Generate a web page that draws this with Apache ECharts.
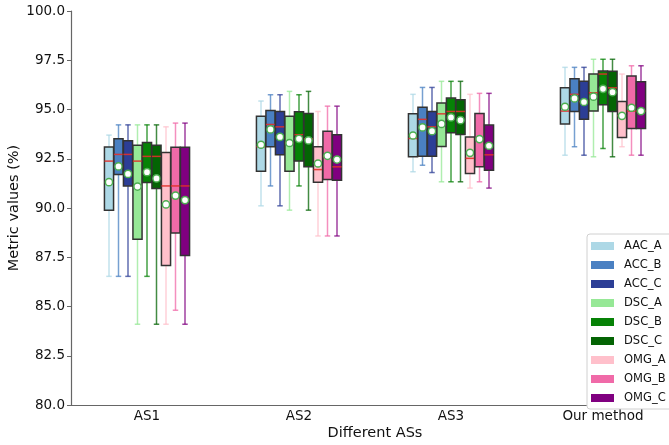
<!DOCTYPE html>
<html>
<head>
<meta charset="utf-8">
<script src="https://cdn.jsdelivr.net/npm/echarts@6/dist/echarts.min.js"></script>
<style>
  html, body { margin: 0; padding: 0; background: #fff; }
  #chart { width: 669px; height: 445px; }
</style>
</head>
<body>
<div id="chart"></div>
<script>
// Groups on the x axis
const categories = ['AS1', 'AS2', 'AS3', 'Our method'];
const seriesNames = ['AAC_A', 'ACC_B', 'ACC_C', 'DSC_A', 'DSC_B', 'DSC_C', 'OMG_A', 'OMG_B', 'OMG_C'];
const yTicks = [80, 82.5, 85, 87.5, 90, 92.5, 95, 97.5, 100];

// Per-series box statistics, one row per group: [low, q1, median, q3, high, mean]
const AAC_A = [
  [86.53, 89.89, 92.38, 93.10, 93.70, 91.31],
  [90.11, 91.87, 93.11, 94.66, 95.43, 93.21],
  [91.84, 92.60, 93.53, 94.78, 95.77, 93.68],
  [92.68, 94.26, 94.92, 96.10, 97.14, 95.14]
];
const ACC_B = [
  [86.53, 91.70, 92.72, 93.51, 94.22, 92.11],
  [91.12, 93.11, 94.24, 94.95, 95.75, 93.99],
  [92.17, 92.63, 94.50, 95.12, 96.12, 94.09],
  [93.11, 94.90, 95.77, 96.56, 97.14, 95.56]
];
const ACC_C = [
  [86.53, 91.12, 92.72, 93.41, 94.22, 91.73],
  [90.11, 92.70, 94.12, 94.90, 95.75, 93.61],
  [91.80, 92.63, 94.12, 94.90, 96.12, 93.90],
  [92.68, 94.50, 95.41, 96.43, 97.14, 95.38]
];
const DSC_A = [
  [84.10, 88.41, 92.38, 93.19, 94.22, 91.09],
  [89.89, 91.87, 93.31, 94.66, 95.92, 93.30],
  [91.33, 93.12, 94.78, 95.33, 96.43, 94.27],
  [92.60, 94.92, 95.85, 96.80, 97.55, 95.65]
];
const DSC_B = [
  [86.53, 91.30, 92.62, 93.33, 94.22, 91.82],
  [91.12, 92.38, 93.72, 94.88, 95.75, 93.51],
  [91.33, 93.82, 94.90, 95.58, 96.43, 94.60],
  [93.02, 95.24, 96.80, 96.95, 97.55, 96.05]
];
const DSC_C = [
  [84.10, 90.99, 92.62, 93.19, 94.22, 91.50],
  [89.89, 92.09, 93.51, 94.80, 95.92, 93.43],
  [91.33, 93.73, 94.90, 95.49, 96.43, 94.46],
  [92.60, 94.90, 96.10, 96.94, 97.55, 95.88]
];
const OMG_A = [
  [84.10, 87.08, 91.12, 92.82, 94.12, 90.18],
  [88.58, 91.31, 91.95, 93.11, 94.90, 92.26],
  [91.01, 91.75, 92.52, 93.61, 95.77, 92.80],
  [93.11, 93.58, 94.68, 95.41, 96.80, 94.68]
];
const OMG_B = [
  [84.81, 88.73, 91.12, 93.09, 94.31, 90.63],
  [88.58, 91.45, 92.62, 93.89, 95.17, 92.65],
  [91.33, 92.09, 93.50, 94.80, 95.82, 93.50],
  [92.68, 94.04, 94.92, 96.70, 97.22, 95.09]
];
const OMG_C = [
  [84.10, 87.59, 91.12, 93.09, 94.31, 90.40],
  [88.58, 91.41, 92.09, 93.72, 95.17, 92.46],
  [91.01, 91.92, 92.70, 94.21, 95.82, 93.16],
  [92.68, 94.04, 94.92, 96.41, 97.22, 94.92]
];

const seriesStats = [AAC_A, ACC_B, ACC_C, DSC_A, DSC_B, DSC_C, OMG_A, OMG_B, OMG_C];
const colors = ['#add8e6', '#4a80c2', '#2c3e96', '#96e896', '#068206', '#046404', '#ffc0cb', '#f06aa8', '#800080'];

const FONT = 'DejaVu Sans';
const nSeries = seriesNames.length;

// One custom series per method: whiskers, caps, box, median and mean marker
function makeRenderer(k, color) {
  return function (params, api) {
    const cat = api.value(0);
    const band = api.size([1, 0])[0];
    const step = band * 0.0625;
    const w = band * 0.06;
    const cx = api.coord([cat, 0])[0] + (k - (nSeries - 1) / 2) * step;
    const yLow = api.coord([cat, api.value(1)])[1];
    const yQ1 = api.coord([cat, api.value(2)])[1];
    const yMed = api.coord([cat, api.value(3)])[1];
    const yQ3 = api.coord([cat, api.value(4)])[1];
    const yHigh = api.coord([cat, api.value(5)])[1];
    const yMean = api.coord([cat, api.value(6)])[1];
    const capHalf = w * 0.3;
    const whisk = { stroke: color, lineWidth: 1.5, opacity: 0.75 };
    return {
      type: 'group',
      children: [
        { type: 'line', shape: { x1: cx, y1: yLow, x2: cx, y2: yQ1 }, style: whisk },
        { type: 'line', shape: { x1: cx, y1: yQ3, x2: cx, y2: yHigh }, style: whisk },
        { type: 'line', shape: { x1: cx - capHalf, y1: yLow, x2: cx + capHalf, y2: yLow }, style: whisk },
        { type: 'line', shape: { x1: cx - capHalf, y1: yHigh, x2: cx + capHalf, y2: yHigh }, style: whisk },
        { type: 'rect', shape: { x: cx - w / 2, y: yQ3, width: w, height: yQ1 - yQ3 },
          style: { fill: color, stroke: '#333333', lineWidth: 1.5 } },
        { type: 'line', shape: { x1: cx - w / 2, y1: yMed, x2: cx + w / 2, y2: yMed },
          style: { stroke: '#e0302a', lineWidth: 1.5, opacity: 0.9 } },
        { type: 'circle', shape: { cx: cx, cy: yMean, r: 3.6 },
          style: { fill: '#ffffff', stroke: '#4caf50', lineWidth: 1.5 } }
      ]
    };
  };
}

const series = seriesNames.map(function (name, k) {
  return {
    name: name,
    type: 'custom',
    renderItem: makeRenderer(k, colors[k]),
    itemStyle: { color: colors[k] },
    encode: { x: 0, y: [1, 2, 3, 4, 5, 6] },
    data: seriesStats[k].map(function (row, i) { return [i].concat(row); }),
    z: 2
  };
});

const chart = echarts.init(document.getElementById('chart'), null, { renderer: 'canvas' });
chart.setOption({
  animation: false,
  backgroundColor: '#ffffff',
  textStyle: { fontFamily: FONT },
  grid: { left: 71, top: 11, right: -10, bottom: 40, containLabel: false, outerBoundsMode: 'none' },
  legend: {
    orient: 'vertical',
    left: 587,
    top: 234,
    data: seriesNames.map(function (n) { return { name: n, icon: 'rect' }; }),
    itemWidth: 23,
    itemHeight: 8,
    itemGap: 7,
    padding: [6, 10, 5, 4],
    backgroundColor: '#ffffff',
    borderColor: '#d0d0d0',
    borderWidth: 1,
    borderRadius: 3,
    textStyle: { fontFamily: FONT, fontSize: 11.5, color: '#111', padding: [0, 0, 0, 5] }
  },
  xAxis: {
    type: 'category',
    data: categories,
    boundaryGap: true,
    name: 'Different ASs',
    nameLocation: 'middle',
    nameGap: 21,
    nameMoveOverlap: false,
    nameTextStyle: { fontFamily: FONT, fontSize: 14.5, color: '#111' },
    axisLine: { lineStyle: { color: '#666', width: 1.2 } },
    axisTick: { alignWithLabel: true, length: 4, lineStyle: { color: '#666' } },
    axisLabel: { fontFamily: FONT, fontSize: 13.5, color: '#111', margin: 4 },
    splitLine: { show: false }
  },
  yAxis: {
    type: 'value',
    min: yTicks[0],
    max: yTicks[yTicks.length - 1],
    interval: 2.5,
    name: 'Metric values (%)',
    nameLocation: 'middle',
    nameRotate: 90,
    nameGap: 49,
    nameMoveOverlap: false,
    nameTextStyle: { fontFamily: FONT, fontSize: 14.5, color: '#111' },
    axisLine: { show: true, lineStyle: { color: '#666', width: 1.2 } },
    axisTick: { show: true, length: 4, lineStyle: { color: '#666' } },
    axisLabel: { fontFamily: FONT, fontSize: 13.5, color: '#111', margin: 6,
      formatter: function (v) { return v.toFixed(1); } },
    splitLine: { show: false }
  },
  series: series
});
</script>
</body>
</html>
